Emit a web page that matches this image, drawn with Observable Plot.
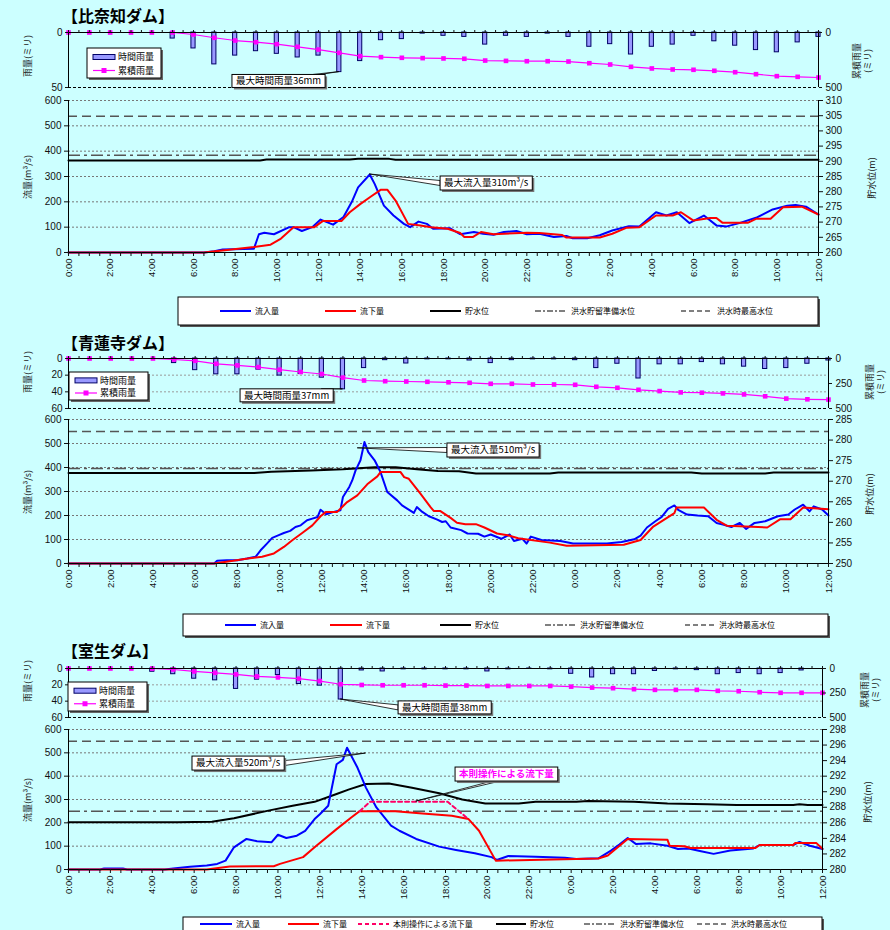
<!DOCTYPE html>
<html><head><meta charset="utf-8">
<script src="https://cdn.jsdelivr.net/npm/d3@7"></script>
<script src="https://cdn.jsdelivr.net/npm/@observablehq/plot@0.6"></script>
<style>
body{margin:0;background:#ccffff;}
#root{position:relative;width:890px;height:930px;overflow:hidden;background:#ccffff;}
#root svg{position:absolute;left:0;}
</style></head>
<body><div id="root"></div>
<script>
// ---------------- DATA ----------------
const hours = d3.range(0, 37);
const halfHours = d3.range(0, 36.001, 0.5);
const labelHours = d3.range(0, 36.001, 2);
const flowTicks = [0, 100, 200, 300, 400, 500, 600];

const damNames = ["【比奈知ダム】", "【青蓮寺ダム】", "【室生ダム】"];

// hourly rainfall (mm), index = hour 0..36
const hourly1 = [0,0,0,0,0,5.5,14.5,29,21,17,19.4,22.7,21,36,26,7,6,1,3,4,11,3,4,1,4,13,10.6,20,13,11,3,8,12,16,18,9,4];
const cumul1  = [0,0,0,0,0,0,18,48,73,88,106,130,155,185,215,224,230,233,236,239,255,258,261,261,264,279,291,312,327,336,339,348,361,379,397,403,409];
const hourly2 = [0,0,0,0,0,5.5,14,19,19,13.4,20.5,18.6,23,37,11.5,2,6,1,1,2.4,5.5,2,1,1,2,11.5,6.3,24,7,7,4.3,7,9.8,12.6,11.5,6.3,2.4];
const cumul2  = [0,0,0,0,0,10,23,53,69,86,112,135,155,191,220,227,230,233,238,243,253,253,260,260,263,283,293,313,326,339,342,349,359,378,401,408,411];
const hourly3 = [0,0,0,0,4,7,12.5,14.5,25,13.7,8,19,21,38,2.4,3.6,1,1,1,1,3.6,1,0.5,1,6.5,11,7,7,3,1,2,7,5.6,7,5.6,2.4,0];
const cumul3  = [0,0,0,0,0,10,30,44,60,81,91,104,128,161,168,171,171,171,174,174,178,178,178,178,185,195,201,211,218,218,218,228,232,242,248,248,248];

// flows [hour, m3/s]
const inflow1 = [[0,0],[6.5,0],[7.0,5],[7.4,12],[8.9,15],[9.14,72],[9.4,78],[9.86,72],[10.6,100],[10.8,100],[11.2,85],[11.7,100],[12.1,130],[12.7,110],[13.2,140],[13.6,200],[13.9,257],[14.46,308],[14.7,270],[15.14,185],[15.6,146],[16.1,113],[16.4,100],[16.8,122],[17.2,113],[17.5,94],[18.3,96],[18.8,72],[19.46,81],[19.9,74],[20.4,70],[20.9,81],[21.5,85],[22.0,72],[22.6,74],[23.3,61],[23.9,65],[24.2,56],[24.9,56],[25.5,68],[26.1,87],[26.9,104],[27.4,103],[28.2,159],[28.7,146],[29.2,159],[29.8,116],[30.5,146],[31.1,107],[31.6,103],[32.2,116],[33.0,137],[33.8,170],[34.5,185],[34.9,188],[35.4,181],[36,150]];
const outflow1 = [[0,0],[6.5,0],[7.5,9],[8.9,22],[9.7,31],[10.2,55],[10.8,100],[11.8,100],[12.2,124],[13.1,124],[13.5,159],[14.0,191],[14.5,220],[15.0,248],[15.3,248],[15.7,205],[16.3,113],[16.9,107],[17.4,100],[18.2,94],[18.8,77],[19.0,61],[19.4,61],[19.8,81],[20.4,72],[22.0,78],[22.6,77],[23.7,69],[23.9,59],[25.5,59],[26.1,74],[26.8,98],[27.4,100],[28.2,146],[29.0,146],[29.4,159],[30.0,126],[30.8,136],[31.1,136],[31.4,117],[32.6,117],[33.0,133],[33.7,133],[34.3,179],[35.2,181],[36,150]];
const level1 = [[0,290.3],[9.2,290.3],[9.5,290.6],[13.5,290.6],[13.9,290.8],[15.4,290.8],[15.7,290.5],[36,290.5]];
const refLevels1 = {prep: 292.0, max: 304.8};

const inflow2 = [[0,0],[6.9,0],[7.04,11],[7.5,14],[8.0,14],[8.46,21],[8.86,28],[9.1,55],[9.4,83],[9.65,107],[9.96,118],[10.2,127],[10.5,136],[10.75,152],[11.0,159],[11.3,180],[11.55,187],[11.8,194],[11.94,224],[12.2,205],[12.57,215],[12.88,222],[13.0,277],[13.3,319],[13.44,346],[13.6,388],[13.83,430],[14.02,506],[14.2,464],[14.5,430],[14.78,381],[15.1,298],[15.57,263],[15.8,242],[16.04,229],[16.36,211],[16.5,235],[16.76,215],[17.07,197],[17.47,183],[17.7,173],[17.87,176],[18.1,150],[18.6,139],[18.9,125],[19.4,124],[19.7,112],[20.0,121],[20.5,103],[20.9,121],[21.1,94],[21.5,103],[21.7,83],[21.9,112],[22.4,98],[23.3,94],[23.9,83],[25.5,83],[26.2,90],[26.8,101],[27.1,116],[27.4,150],[27.8,176],[28.1,194],[28.4,228],[28.7,242],[28.9,222],[29.3,204],[29.8,200],[30.3,197],[30.7,169],[31.0,162],[31.4,152],[31.8,169],[32.1,144],[32.5,169],[33.0,176],[33.6,197],[34.1,204],[34.4,225],[34.8,245],[35.1,217],[35.3,238],[35.7,225],[36.0,200]];
const outflow2 = [[0,0],[6.9,0],[7.8,11],[8.5,21],[9.17,28],[9.73,42],[10.2,69],[10.6,97],[11.07,127],[11.55,159],[11.94,197],[12.2,215],[12.73,215],[13.2,256],[13.68,284],[14.15,330],[14.63,363],[14.78,381],[15.73,381],[15.9,360],[16.12,353],[16.67,291],[17.15,235],[17.3,219],[17.6,219],[18.1,190],[18.4,170],[18.8,164],[19.3,164],[19.7,150],[20.3,125],[20.8,118],[21.3,105],[22.8,87],[23.6,74],[26.3,78],[27.1,98],[27.7,154],[28.7,210],[28.8,233],[30.1,233],[30.7,182],[31.2,157],[33.1,150],[33.7,184],[34.2,184],[34.8,233],[36.0,226]];
const level2 = [[0,272.0],[8.8,272.0],[9.6,272.3],[11.5,272.6],[13.0,272.9],[14.5,273.4],[15.5,273.4],[16.5,272.9],[17.5,272.5],[18.5,272.4],[19.3,271.9],[22.8,271.9],[23.2,272.1],[29.5,272.1],[30.0,271.9],[33.0,271.9],[33.4,272.1],[36,272.1]];
const refLevels2 = {prep: 273.1, max: 282.1};

const inflow3 = [[0,0],[1.5,0],[1.7,4],[2.6,4],[2.8,0],[4.6,0],[5.0,4],[5.8,12],[6.6,17],[7.1,24],[7.5,38],[7.9,95],[8.5,131],[9.0,121],[9.7,117],[10.0,149],[10.4,135],[10.9,145],[11.3,166],[11.75,216],[12.0,237],[12.4,273],[12.8,451],[13.1,470],[13.3,522],[13.8,436],[14.2,351],[14.7,266],[15.4,188],[15.8,166],[16.6,131],[17.7,98],[18.5,84],[19.4,70],[20.2,53],[20.45,41],[21.0,58],[22.3,55],[23.7,50],[24.25,45],[25.3,48],[25.9,81],[26.3,107],[26.7,135],[27.1,109],[27.8,112],[28.6,102],[29.1,88],[29.6,90],[30.2,78],[30.8,67],[31.6,81],[32.7,90],[33.0,105],[34.6,105],[34.9,118],[35.4,102],[36.0,88]];
const outflow3 = [[0,0],[6.6,0],[7.7,13],[9.8,14],[10.1,24],[11.2,53],[11.75,95],[12.8,173],[13.5,223],[13.9,250],[15.6,250],[16.9,240],[18.3,230],[19.1,216],[19.6,166],[20.4,38],[25.3,47],[25.75,60],[26.7,131],[28.6,127],[28.7,102],[29.4,100],[29.7,92],[32.8,92],[33.0,105],[34.6,105],[34.7,114],[35.7,114],[36.0,88]];
const ruleOutflow3 = [[13.9,250],[14.4,290],[18.1,290],[19.1,216]];
const level3 = [[0,286.06],[5.2,286.06],[6.85,286.15],[7.9,286.6],[9.6,287.6],[10.7,288.2],[11.75,288.7],[12.8,289.7],[13.4,290.3],[14.2,291.0],[15.3,291.05],[16.4,290.5],[17.7,289.8],[18.8,289.0],[19.9,288.5],[21.5,288.5],[22.3,288.7],[24.25,288.7],[24.8,288.8],[27.0,288.7],[28.6,288.5],[30.5,288.4],[31.9,288.3],[34.6,288.3],[34.9,288.4],[35.3,288.3],[36,288.3]];
const refLevels3 = {prep: 287.5, max: 296.5};

// ---------------- DRAWING ----------------
const FONT = '"Liberation Sans","Noto Sans CJK JP",sans-serif';
const JFONT = '"Noto Sans CJK JP","Liberation Sans",sans-serif';
const root = document.getElementById("root");
const hourLabel = h => `${h % 24}:00`;

function put(svg, top) { svg.style.top = top + "px"; root.appendChild(svg); }

function rainChart(p) {
  const k = p.yMax / 500;
  const hd = hours.map(h => ({h, v: p.hourly[h]})).filter(d => d.v > 0);
  const cd = hours.map(h => ({h, v: p.cumul[h]}));
  const marks = [
    Plot.gridY(p.grid, {stroke: "#9a9a9a", strokeDasharray: "2,2", strokeOpacity: 1}),
    Plot.ruleY([p.yMax], {stroke: "#000", strokeDasharray: "3,2"}),
    Plot.rect(hd, {x1: d => d.h - 0.1, x2: d => d.h + 0.1, y1: 0, y2: "v", fill: "#9999ff", stroke: "#000066", strokeWidth: 1}),
    Plot.line(cd, {x: "h", y: d => d.v * k, stroke: "#ff00ff", strokeWidth: 1.2}),
    Plot.dot(cd, {x: "h", y: d => d.v * k, symbol: "square", r: 2.6, fill: "#ff00ff"}),
    Plot.ruleY([0], {stroke: "#000"}),
    Plot.ruleX([0], {stroke: "#000"}),
    Plot.ruleX([36], {stroke: "#000"}),
    Plot.axisX(halfHours, {anchor: "top", tickSize: 3, tickFormat: () => "", label: null}),
    Plot.axisY(p.leftTicks, {anchor: "left", tickSize: 3, tickPadding: 3, label: null, fontSize: 10}),
    Plot.axisY(p.rightTicks.map(v => v * k), {anchor: "right", tickSize: 3, tickPadding: 4, label: null, fontSize: 10, tickFormat: d => Math.round(d / k)})
  ];
  const svg = Plot.plot({
    width: 890, height: p.svgH,
    marginLeft: 68, marginRight: 890 - p.right, marginTop: p.plotTop - p.svgTop, marginBottom: p.svgTop + p.svgH - p.plotBottom,
    style: {background: "transparent", fontFamily: FONT, fontSize: "10px", color: "#111", overflow: "visible"},
    x: {domain: [0, 36]},
    y: {domain: [0, p.yMax], reverse: true},
    marks
  });
  put(svg, p.svgTop);
}

function flowChart(p) {
  const toF = L => (L - p.lvMin) * 600 / (p.lvMax - p.lvMin);
  const fromF = f => Math.round(f * (p.lvMax - p.lvMin) / 600 + p.lvMin);
  const marks = [
    Plot.gridY(flowTicks.slice(1), {stroke: "#777", strokeDasharray: "2,2", strokeOpacity: 1}),
    Plot.ruleY([toF(p.ref.max)], {stroke: "#555", strokeWidth: 1.5, strokeDasharray: "9,5"}),
    Plot.ruleY([toF(p.ref.prep)], {stroke: "#555", strokeWidth: 1.5, strokeDasharray: "12,4,3,4"}),
    Plot.line(p.level, {x: d => d[0], y: d => toF(d[1]), stroke: "#000", strokeWidth: 2}),
    Plot.line(p.inflow, {x: d => d[0], y: d => d[1], stroke: "#0000ff", strokeWidth: 2}),
    Plot.line(p.outflow, {x: d => d[0], y: d => d[1], stroke: "#ff0000", strokeWidth: 2})
  ];
  if (p.rule) marks.push(Plot.line(p.rule, {x: d => d[0], y: d => d[1], stroke: "#ff0066", strokeWidth: 2, strokeDasharray: "4,3"}));
  marks.push(
    Plot.ruleY([0], {stroke: "#000"}),
    Plot.ruleX([0], {stroke: "#000"}),
    Plot.ruleX([36], {stroke: "#000"}),
    Plot.axisX(halfHours, {tickSize: 4, tickFormat: () => "", label: null}),
    Plot.axisX(labelHours, {tickSize: 0, tickPadding: 6, tickRotate: -90, tickFormat: hourLabel, label: null, fontSize: 9.5}),
    Plot.axisY(flowTicks, {anchor: "left", tickSize: 4, tickPadding: 3, label: null, fontSize: 10}),
    Plot.axisY(p.lvTicks.map(toF), {anchor: "right", tickSize: 4, tickPadding: 3, label: null, fontSize: 10, tickFormat: fromF})
  );
  const svg = Plot.plot({
    width: 890, height: p.svgH,
    marginLeft: 68, marginRight: 890 - p.right, marginTop: p.plotTop - p.svgTop, marginBottom: p.svgTop + p.svgH - p.plotBottom,
    style: {background: "transparent", fontFamily: FONT, fontSize: "10px", color: "#111", overflow: "visible"},
    x: {domain: [0, 36]},
    y: {domain: [0, 600]},
    marks
  });
  put(svg, p.svgTop);
}

const panels = [
  {rain: {svgTop: 20, svgH: 80, plotTop: 32, plotBottom: 87, right: 818, yMax: 50, leftTicks: [0, 50], rightTicks: [0, 500], grid: [], hourly: hourly1, cumul: cumul1},
   flow: {svgTop: 92, svgH: 208, plotTop: 100, plotBottom: 252, right: 818, lvMin: 260, lvMax: 310, lvTicks: d3.range(260, 311, 5), inflow: inflow1, outflow: outflow1, level: level1, ref: refLevels1}},
  {rain: {svgTop: 345, svgH: 70, plotTop: 358, plotBottom: 408, right: 828, yMax: 60, leftTicks: [0, 20, 40, 60], rightTicks: [0, 250, 500], grid: [20, 40], hourly: hourly2, cumul: cumul2},
   flow: {svgTop: 410, svgH: 200, plotTop: 419, plotBottom: 563, right: 828, lvMin: 250, lvMax: 285, lvTicks: d3.range(250, 286, 5), inflow: inflow2, outflow: outflow2, level: level2, ref: refLevels2}},
  {rain: {svgTop: 655, svgH: 70, plotTop: 668, plotBottom: 717, right: 822, yMax: 60, leftTicks: [0, 20, 40, 60], rightTicks: [0, 250, 500], grid: [20, 40], hourly: hourly3, cumul: cumul3},
   flow: {svgTop: 720, svgH: 200, plotTop: 729, plotBottom: 869, right: 822, lvMin: 280, lvMax: 298, lvTicks: d3.range(280, 299, 2), inflow: inflow3, outflow: outflow3, level: level3, ref: refLevels3, rule: ruleOutflow3}}
];

panels.forEach(p => { rainChart(p.rain); flowChart(p.flow); });

// ---------------- OVERLAY: titles, axis titles, legends, callouts ----------------
const ov = d3.select(root).append("svg").attr("width", 890).attr("height", 930)
  .style("top", "0px").style("pointer-events", "none").style("font-family", FONT);

const titleY = [22, 349, 657];
damNames.forEach((t, i) => ov.append("text").attr("x", 62).attr("y", titleY[i]).text(t)
  .style("font-family", JFONT).style("font-weight", "bold").style("font-size", "16px").attr("fill", "#000"));

function vtext(x, y, lines, size = 9) {
  const t = ov.append("text").attr("transform", `translate(${x},${y}) rotate(-90)`)
    .attr("text-anchor", "middle").style("font-family", JFONT).style("font-size", size + "px").attr("fill", "#222");
  lines.forEach((l, i) => t.append("tspan").attr("x", 0).attr("y", i * 11).attr("dy", "0.35em").text(l));
}
const axisTitles = [
  {rainL: [28, 56], flowL: [28, 177], rainR: [857, 61], flowR: [872, 178]},
  {rainL: [28, 372], flowL: [28, 492], rainR: [870, 382], flowR: [870, 494]},
  {rainL: [28, 681], flowL: [28, 800], rainR: [865, 690], flowR: [868, 802]}
];
axisTitles.forEach(a => {
  vtext(a.rainL[0], a.rainL[1], ["雨量(ミリ)"]);
  vtext(a.flowL[0], a.flowL[1], ["流量(m³/s)"]);
  vtext(a.rainR[0], a.rainR[1], ["累積雨量", "(ミリ)"]);
  vtext(a.flowR[0], a.flowR[1], ["貯水位(m)"]);
});

// rain legends
function rainLegend(x, y, w, h) {
  ov.append("rect").attr("x", x + 2).attr("y", y + 2).attr("width", w).attr("height", h).attr("fill", "#666");
  ov.append("rect").attr("x", x).attr("y", y).attr("width", w).attr("height", h).attr("fill", "#fff").attr("stroke", "#000");
  const r1 = y + h * 0.3, r2 = y + h * 0.75;
  ov.append("rect").attr("x", x + 6).attr("y", r1 - 2.5).attr("width", 22).attr("height", 5).attr("fill", "#9999ff").attr("stroke", "#000066");
  ov.append("line").attr("x1", x + 6).attr("x2", x + 28).attr("y1", r2).attr("y2", r2).attr("stroke", "#ff00ff").attr("stroke-width", 1.2);
  ov.append("rect").attr("x", x + 14.5).attr("y", r2 - 2.5).attr("width", 5).attr("height", 5).attr("fill", "#ff00ff");
  [["時間雨量", r1], ["累積雨量", r2]].forEach(([t, yy]) => ov.append("text").attr("x", x + 31).attr("y", yy).attr("dy", "0.35em")
    .text(t).style("font-family", JFONT).style("font-size", "9px").attr("fill", "#000"));
}
rainLegend(87, 48, 74, 30);
rainLegend(69, 372, 79, 28);
rainLegend(68, 682, 79, 29);

// main legends
const SW = {
  in: {stroke: "#0000ff", dash: null, w: 2},
  out: {stroke: "#ff0000", dash: null, w: 2},
  rule: {stroke: "#ff0066", dash: "4,3", w: 2},
  lv: {stroke: "#000", dash: null, w: 2},
  prep: {stroke: "#000", dash: "6,2,2,2", w: 1},
  max: {stroke: "#000", dash: "5,3", w: 1}
};
const legendLabels = {in: "流入量", out: "流下量", rule: "本則操作による流下量", lv: "貯水位", prep: "洪水貯留準備水位", max: "洪水時最高水位"};
function mainLegend(x, y, w, h, items) {
  ov.append("rect").attr("x", x + 2).attr("y", y + 2).attr("width", w).attr("height", h).attr("fill", "#555");
  ov.append("rect").attr("x", x).attr("y", y).attr("width", w).attr("height", h).attr("fill", "#fff").attr("stroke", "#000");
  const cy = y + h / 2;
  items.forEach(([key, x1, x2]) => {
    const s = SW[key];
    ov.append("line").attr("x1", x1).attr("x2", x2).attr("y1", cy).attr("y2", cy).attr("stroke", s.stroke)
      .attr("stroke-width", s.w).attr("stroke-dasharray", s.dash);
    ov.append("text").attr("x", x2 + 4).attr("y", cy).attr("dy", "0.35em").text(legendLabels[key])
      .style("font-family", JFONT).style("font-size", "8px").attr("fill", "#000");
  });
}
mainLegend(178, 297, 640, 28, [["in", 220, 251], ["out", 325, 356], ["lv", 430, 461], ["prep", 535, 567], ["max", 681, 713]]);
mainLegend(183, 614, 645, 22, [["in", 225, 256], ["out", 330, 362], ["lv", 440, 471], ["prep", 545, 576], ["max", 685, 715]]);
mainLegend(183, 917, 639, 14, [["in", 200, 232], ["out", 288, 319], ["rule", 358, 389], ["lv", 496, 526], ["prep", 584, 616], ["max", 697, 727]]);

// callouts (positions in data coordinates)
function callout(c, a) {
  const sx = d3.scaleLinear([0, 36], [68, c.right]);
  const sy = d3.scaleLinear(c.yDomain, c.yRange);
  const bx = sx(a.box[0]), by = sy(a.box[1]);
  const tx = sx(a.tip[0]), ty = sy(a.tip[1]);
  const h = a.h || 14;
  const g = ov.append("g");
  const t = g.append("text").attr("x", bx + 4).attr("y", by + h / 2).attr("dy", "0.36em").text(a.text)
    .style("font-family", JFONT).style("font-size", "9.5px").style("font-weight", a.bold ? "bold" : "normal").attr("fill", a.color || "#000");
  const w = t.node().getComputedTextLength() + 8;
  let b1, b2;
  if (a.side === "left") { b1 = [bx, by + h / 2 - 2.5]; b2 = [bx, by + h / 2 + 2.5]; }
  else if (a.side === "right") { b1 = [bx + w, by + h / 2 - 2.5]; b2 = [bx + w, by + h / 2 + 2.5]; }
  else if (a.side === "topright") { b1 = [bx + w - 12, by]; b2 = [bx + w - 5, by]; }
  else { const fx = bx + w * a.frac; b1 = [fx - 4, by + h]; b2 = [fx + 4, by + h]; }
  g.insert("polygon", "text").attr("points", [b1, [tx, ty], b2].map(p => p.join(",")).join(" "))
    .attr("fill", "#fff").attr("stroke", "#000").attr("stroke-width", 0.8);
  g.insert("rect", "text").attr("x", bx + 2).attr("y", by + 2).attr("width", w).attr("height", h).attr("fill", "#777");
  g.insert("rect", "text").attr("x", bx).attr("y", by).attr("width", w).attr("height", h).attr("fill", "#fff").attr("stroke", "#000");
}
// rain charts: 0 at the top, max at the bottom; flow charts: 0 at the bottom
const rainCoords = panels.map(p => ({right: p.rain.right, yDomain: [0, p.rain.yMax], yRange: [p.rain.plotTop, p.rain.plotBottom]}));
const flowCoords = panels.map(p => ({right: p.flow.right, yDomain: [0, 600], yRange: [p.flow.plotBottom, p.flow.plotTop]}));

callout(rainCoords[0], {text: "最大時間雨量36mm", box: [7.87, 38.6], tip: [13, 36], side: "topright", h: 13});
callout(flowCoords[0], {text: "最大流入量310m³/s", box: [17.86, 300], tip: [14.46, 308], side: "left"});
callout(rainCoords[1], {text: "最大時間雨量37mm", box: [8.15, 37], tip: [13, 37], side: "topright", h: 13});
callout(flowCoords[1], {text: "最大流入量510m³/s", box: [17.95, 500], tip: [13.7, 480], side: "left"});
callout(rainCoords[2], {text: "最大時間雨量38mm", box: [15.76, 40.3], tip: [13, 38], side: "left", h: 13});
callout(flowCoords[2], {text: "最大流入量520m³/s", box: [5.92, 484], tip: [14.2, 497], side: "right"});
callout(flowCoords[2], {text: "本則操作による流下量", box: [18.48, 437], tip: [16.6, 291], side: "bottom", frac: 0.4, color: "#ff00ff", bold: true});
</script>
</body></html>
